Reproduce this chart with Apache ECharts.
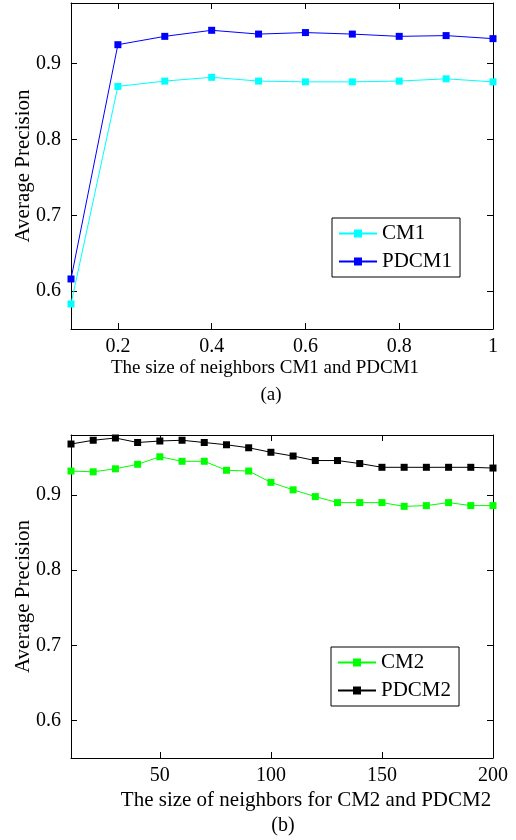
<!DOCTYPE html>
<html>
<head>
<meta charset="utf-8">
<script src="https://cdn.jsdelivr.net/npm/echarts@6/dist/echarts.min.js"></script>
<style>
  html, body { margin: 0; padding: 0; background: #fff; }
  #chart { width: 516px; height: 840px; }
</style>
</head>
<body>
<div id="chart"></div>
<script>
// top panel (a)
var xTop = [0.1, 0.2, 0.3, 0.4, 0.5, 0.6, 0.7, 0.8, 0.9, 1.0];
var cm1 = [0.583, 0.870, 0.877, 0.882, 0.877, 0.876, 0.876, 0.877, 0.880, 0.876];
var pdcm1 = [0.616, 0.925, 0.936, 0.944, 0.939, 0.941, 0.939, 0.936, 0.937, 0.933];

// bottom panel (b)
var xBottom = [10, 20, 30, 40, 50, 60, 70, 80, 90, 100, 110, 120, 130, 140, 150, 160, 170, 180, 190, 200];
var cm2 = [0.932, 0.931, 0.935, 0.941, 0.951, 0.945, 0.945, 0.933, 0.932, 0.917, 0.907, 0.898, 0.890, 0.890, 0.890, 0.885, 0.886, 0.890, 0.886, 0.886];
var pdcm2 = [0.968, 0.973, 0.976, 0.970, 0.972, 0.973, 0.970, 0.967, 0.963, 0.957, 0.952, 0.946, 0.946, 0.942, 0.937, 0.937, 0.937, 0.937, 0.937, 0.936];

// ticks
var yTicks = [0.6, 0.7, 0.8, 0.9];
var xTopTicks = [0.2, 0.4, 0.6, 0.8, 1];
var xBottomTicks = [50, 100, 150, 200];

var FONT = "Liberation Serif";

function pairs(xs, ys) {
  return xs.map(function (x, i) { return [x, ys[i]]; });
}

function xAx(grid, min, max, ticks, pos, showLabel) {
  return {
    type: "value", gridIndex: grid, position: pos, min: min, max: max,
    axisLine: { show: true, onZero: false, lineStyle: { color: "#000", width: 1 } },
    axisTick: { show: true, inside: true, length: 6, customValues: ticks, lineStyle: { color: "#000" } },
    axisLabel: { show: showLabel, customValues: ticks, margin: 8, color: "#000", fontFamily: FONT, fontSize: 20 },
    splitLine: { show: false }
  };
}

function yAx(grid, pos, showLabel) {
  var a = {
    type: "value", gridIndex: grid, position: pos, min: 0.55, max: 0.98,
    axisLine: { show: true, onZero: false, lineStyle: { color: "#000", width: 1 } },
    axisTick: { show: true, inside: true, length: 6, customValues: yTicks, lineStyle: { color: "#000" } },
    axisLabel: {
      show: showLabel, customValues: yTicks, margin: 10, color: "#000", fontFamily: FONT, fontSize: 20,
      formatter: function (v) { return v.toFixed(1); }
    },
    splitLine: { show: false }
  };
  if (showLabel) {
    a.name = "Average Precision";
    a.nameLocation = "middle";
    a.nameGap = 37;
    a.nameMoveOverlap = false;
    a.nameTextStyle = { color: "#000", fontFamily: FONT, fontSize: 21 };
  }
  return a;
}

function line(name, data, color, xi, yi) {
  return {
    name: name, type: "line", xAxisIndex: xi, yAxisIndex: yi, data: data,
    symbol: "rect", symbolSize: 7, showSymbol: true,
    lineStyle: { color: color, width: 1 },
    itemStyle: { color: color },
    animation: false
  };
}

var myChart = echarts.init(document.getElementById("chart"));

var option = {
  backgroundColor: "#fff",
  animation: false,
  grid: [
    { left: 71, right: 23, top: 3, height: 326, outerBoundsMode: "none" },
    { left: 71, right: 23, top: 435, height: 323, outerBoundsMode: "none" }
  ],
  xAxis: [
    xAx(0, 0.1, 1, xTopTicks, "bottom", true),
    xAx(0, 0.1, 1, xTopTicks, "top", false),
    xAx(1, 10, 200, xBottomTicks, "bottom", true),
    xAx(1, 10, 200, xBottomTicks, "top", false)
  ],
  yAxis: [
    yAx(0, "left", true),
    yAx(0, "right", false),
    yAx(1, "left", true),
    yAx(1, "right", false)
  ],
  legend: [
    {
      data: ["CM1", "PDCM1"], orient: "vertical", left: 332, top: 218,
      borderColor: "#000", borderWidth: 1, borderRadius: 0, padding: [5, 8, 5, 6],
      itemWidth: 38, itemHeight: 10, itemGap: 7,
      textStyle: { color: "#000", fontFamily: FONT, fontSize: 21 }
    },
    {
      data: ["CM2", "PDCM2"], orient: "vertical", left: 331, top: 647,
      borderColor: "#000", borderWidth: 1, borderRadius: 0, padding: [5, 8, 5, 6],
      itemWidth: 38, itemHeight: 10, itemGap: 7,
      textStyle: { color: "#000", fontFamily: FONT, fontSize: 21 }
    }
  ],
  graphic: [
    { type: "text", x: 265, y: 368, style: { text: "The size of neighbors CM1 and PDCM1", fill: "#000", font: "19px " + FONT, align: "center", verticalAlign: "middle" } },
    { type: "text", x: 271, y: 395, style: { text: "(a)", fill: "#000", font: "19px " + FONT, align: "center", verticalAlign: "middle" } },
    { type: "text", x: 306, y: 800, style: { text: "The size of neighbors for CM2 and PDCM2", fill: "#000", font: "21px " + FONT, align: "center", verticalAlign: "middle" } },
    { type: "text", x: 283, y: 826, style: { text: "(b)", fill: "#000", font: "20px " + FONT, align: "center", verticalAlign: "middle" } }
  ],
  series: [
    line("CM1", pairs(xTop, cm1), "#00ffff", 0, 0),
    line("PDCM1", pairs(xTop, pdcm1), "#0000ff", 0, 0),
    line("CM2", pairs(xBottom, cm2), "#00ff00", 2, 2),
    line("PDCM2", pairs(xBottom, pdcm2), "#000000", 2, 2)
  ]
};

myChart.setOption(option);
</script>
</body>
</html>
